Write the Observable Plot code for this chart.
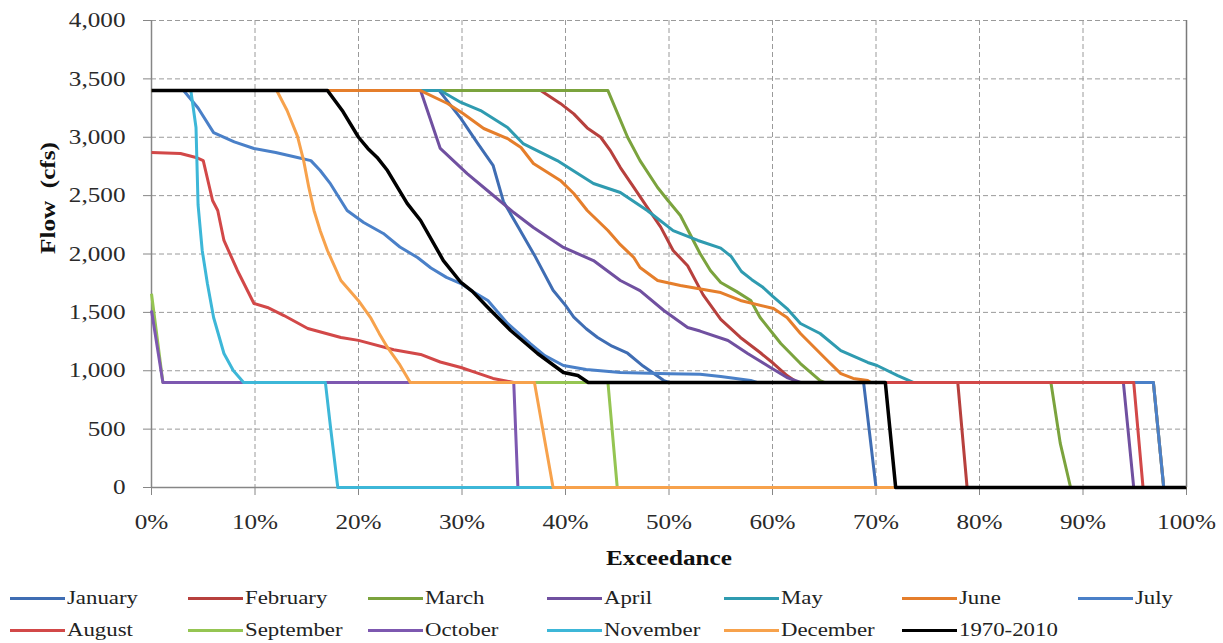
<!DOCTYPE html>
<html><head><meta charset="utf-8">
<script src="https://cdn.jsdelivr.net/npm/d3@7"></script>
<script src="https://cdn.jsdelivr.net/npm/@observablehq/plot@0.6"></script>
<style>
body{margin:0;background:#fff;}
#wrap{position:relative;width:1223px;height:643px;overflow:hidden;font-family:"Liberation Serif","Times New Roman",serif;background:#fff;}
#chart svg{display:block}
.leg{position:absolute;height:0}
.leg .sw{position:absolute;left:0;top:-1.5px;width:55px;height:3px}
.leg .lb{position:absolute;left:57px;top:-12px;font-size:19px;line-height:24px;white-space:nowrap;transform:scaleX(1.2);transform-origin:0 50%;color:#222}
</style></head>
<body><div id="wrap"><div id="chart"></div><div id="legend"></div></div>
<script>
// ---- data: [exceedance %, flow cfs] ----
const january = [[0,3400],[27.8,3400],[29.9,3160],[31.5,2950],[33,2760],[34,2450],[35.5,2220],[37,1990],[38.8,1690],[40,1560],[40.8,1460],[42,1360],[43.1,1285],[44.5,1210],[46,1150],[47.5,1040],[49.5,916],[50,900],[68.8,900],[70,0],[100,0]];
const february = [[0,3400],[37.6,3400],[39.5,3290],[40.8,3200],[42.1,3080],[43.4,3000],[44.3,2890],[45.3,2740],[46.6,2570],[47.9,2400],[49.2,2230],[50.4,2030],[51.8,1900],[53.3,1650],[55,1440],[56.9,1285],[58.8,1156],[60.1,1062],[61.4,959],[62.4,900],[77.9,900],[78.8,0],[100,0]];
const march = [[0,3400],[44.1,3400],[46,3000],[47.2,2800],[48.9,2570],[49.9,2458],[51.1,2330],[51.8,2210],[53,2004],[54,1859],[55,1756],[56.5,1680],[57.9,1602],[58.8,1456],[60.8,1233],[62.7,1062],[64.6,916],[65,900],[86.9,900],[87.8,380],[88.8,0],[100,0]];
const april = [[0,3400],[26,3400],[27.9,2904],[30.5,2689],[32.8,2518],[35,2355],[36.9,2227],[39.8,2056],[42.7,1944],[45.3,1773],[47.2,1687],[49.5,1516],[51.8,1370],[53,1340],[55.7,1259],[57.6,1148],[59.8,1028],[61.4,942],[62.7,900],[93.9,900],[94.9,0],[100,0]];
const may = [[0,3400],[27.9,3400],[29.9,3298],[31.8,3229],[34.4,3083],[35.9,2946],[39.2,2800],[42.7,2604],[45.3,2527],[47.9,2373],[50.4,2200],[52.8,2116],[55,2050],[56,1980],[57,1850],[58,1780],[59,1720],[60,1640],[61.4,1533],[62.7,1405],[64.6,1319],[66.6,1173],[69.2,1071],[70.1,1045],[72.1,959],[73.6,900],[96.8,900],[97.8,0],[100,0]];
const june = [[0,3400],[26,3400],[28.6,3289],[30.1,3203],[32.1,3075],[34.4,2989],[35.7,2912],[36.9,2775],[39.5,2630],[40.8,2518],[42.1,2373],[44.1,2201],[45.3,2080],[46.6,1970],[47.2,1884],[48.9,1773],[51.1,1730],[55,1670],[56.9,1602],[60.1,1533],[61.4,1456],[62.7,1319],[65.3,1088],[66.6,976],[67.8,934],[69.2,916],[69.5,900],[96.8,900],[97.8,0],[100,0]];
const july = [[0,3400],[3.1,3400],[4.5,3250],[6,3040],[8,2960],[9.9,2904],[12,2870],[14.1,2827],[15.4,2800],[16.3,2715],[17.3,2600],[18.9,2373],[20.5,2270],[22.4,2176],[24,2060],[25.7,1970],[27,1880],[28.5,1800],[29.9,1747],[31,1680],[32.5,1602],[34.4,1405],[36.6,1233],[38,1130],[39.8,1045],[42,1010],[45.3,985],[50,975],[53,970],[55,950],[57.9,916],[58.5,900],[96.8,900],[97.8,0],[100,0]];
const august = [[0,2870],[2.8,2861],[4.3,2827],[5,2800],[5.9,2458],[6.4,2373],[7,2116],[8.3,1859],[9.9,1576],[11.2,1542],[12.8,1473],[15.1,1362],[18.3,1285],[20,1260],[23.4,1180],[26,1140],[27.9,1075],[29.9,1028],[31.5,980],[33,934],[35,900],[94.9,900],[95.8,0],[100,0]];
const september = [[0,1660],[1.1,900],[44.1,900],[45,0],[100,0]];
const october = [[0,1516],[1.1,900],[35,900],[35.4,0],[100,0]];
const november = [[0,3400],[3.8,3400],[4.3,3083],[4.5,2420],[4.9,2030],[5.4,1747],[6,1456],[7,1148],[7.9,1002],[8.9,900],[16.8,900],[17.3,514],[18,0],[100,0]];
const december = [[0,3400],[12.1,3400],[13.1,3229],[14.1,3010],[14.7,2800],[15.2,2570],[15.7,2373],[16.3,2200],[17,2030],[18.3,1773],[20,1600],[21.2,1450],[22,1320],[22.8,1200],[24,1050],[25,900],[37,900],[38.8,0],[100,0]];
const period = [[0,3400],[17,3400],[18.5,3220],[20,3000],[20.9,2904],[21.8,2827],[22.8,2715],[24.7,2433],[26,2287],[28.2,1944],[29.9,1756],[31,1680],[32.5,1542],[34.7,1345],[37.3,1148],[39.8,985],[41.2,959],[42.2,900],[70.9,900],[71.9,0],[100,0]];

const seriesNames = ["January","February","March","April","May","June","July","August","September","October","November","December","1970-2010"];
const seriesData = [january,february,march,april,may,june,july,august,september,october,november,december,period];
const seriesColors = ["#3F6DB3","#B7403D","#7BA33D","#7050A0","#2F9BB0","#E57E2B","#4A80C8","#D24848","#95C552","#7D58B0","#3DB7D8","#F7A24C","#000000"];
const xTicks = [0,10,20,30,40,50,60,70,80,90,100];
const yTicks = [0,500,1000,1500,2000,2500,3000,3500,4000];

const lines = seriesData.map((d, i) => Plot.line(d, {
  x: p => p[0], y: p => p[1],
  stroke: seriesColors[i], strokeWidth: i === 12 ? 3.5 : 3,
  strokeLinejoin: "round", strokeLinecap: "butt"
}));

const chart = Plot.plot({
  width: 1223, height: 580,
  marginLeft: 151, marginRight: 37, marginTop: 20, marginBottom: 93,
  style: {fontFamily: '"Liberation Serif", "Times New Roman", serif', fontSize: "21px", background: "white", overflow: "visible"},
  x: {domain: [0, 100]},
  y: {domain: [0, 4000]},
  marks: [
    Plot.gridX(xTicks, {stroke: "#9a9a9a", strokeOpacity: 1, strokeDasharray: "5,3"}),
    Plot.gridY(yTicks, {stroke: "#9a9a9a", strokeOpacity: 1, strokeDasharray: "5,3"}),
    Plot.axisX({ticks: xTicks, tickFormat: d => d + "%", tickSize: 8, tickPadding: 19, stroke: "#868686", color: "#2a2a2a", label: null}),
    Plot.axisY({ticks: yTicks, tickFormat: d3.format(","), tickSize: 8, tickPadding: 18, stroke: "#868686", color: "#2a2a2a", label: null}),
    Plot.ruleX([0], {stroke: "#868686", strokeWidth: 1.5}),
    Plot.ruleY([0], {stroke: "#868686", strokeWidth: 1.5}),
    ...lines,
    Plot.ruleX([100], {stroke: "#7a7a7a", strokeWidth: 1.5}),
    Plot.text(["Exceedance"], {frameAnchor: "bottom", dy: 71, lineAnchor: "middle", fontWeight: "bold", fontSize: 21, fill: "#111"}),
    Plot.text(["Flow  (cfs)"], {frameAnchor: "left", dx: -103, rotate: -90, lineAnchor: "middle", fontWeight: "bold", fontSize: 21, fill: "#111"})
  ]
});
chart.querySelectorAll("text").forEach(t => {
  const tr = t.getAttribute("transform");
  if (tr) t.setAttribute("transform", tr + " scale(1.2,1)");
  t.setAttribute("xml:space", "preserve");
  t.style.whiteSpace = "pre";
});
document.getElementById("chart").appendChild(chart);

// ---- legend ----
const legCols = [10, 188, 368, 547, 724, 902, 1078];
const legRows = [598, 630];
const legend = document.getElementById("legend");
seriesNames.forEach((name, i) => {
  const row = i < 7 ? 0 : 1, col = i < 7 ? i : i - 7;
  const item = document.createElement("div");
  item.className = "leg";
  item.style.left = legCols[col] + "px";
  item.style.top = legRows[row] + "px";
  item.innerHTML = `<div class="sw" style="background:${seriesColors[i]}"></div><div class="lb">${name}</div>`;
  legend.appendChild(item);
});
</script>
</body></html>
